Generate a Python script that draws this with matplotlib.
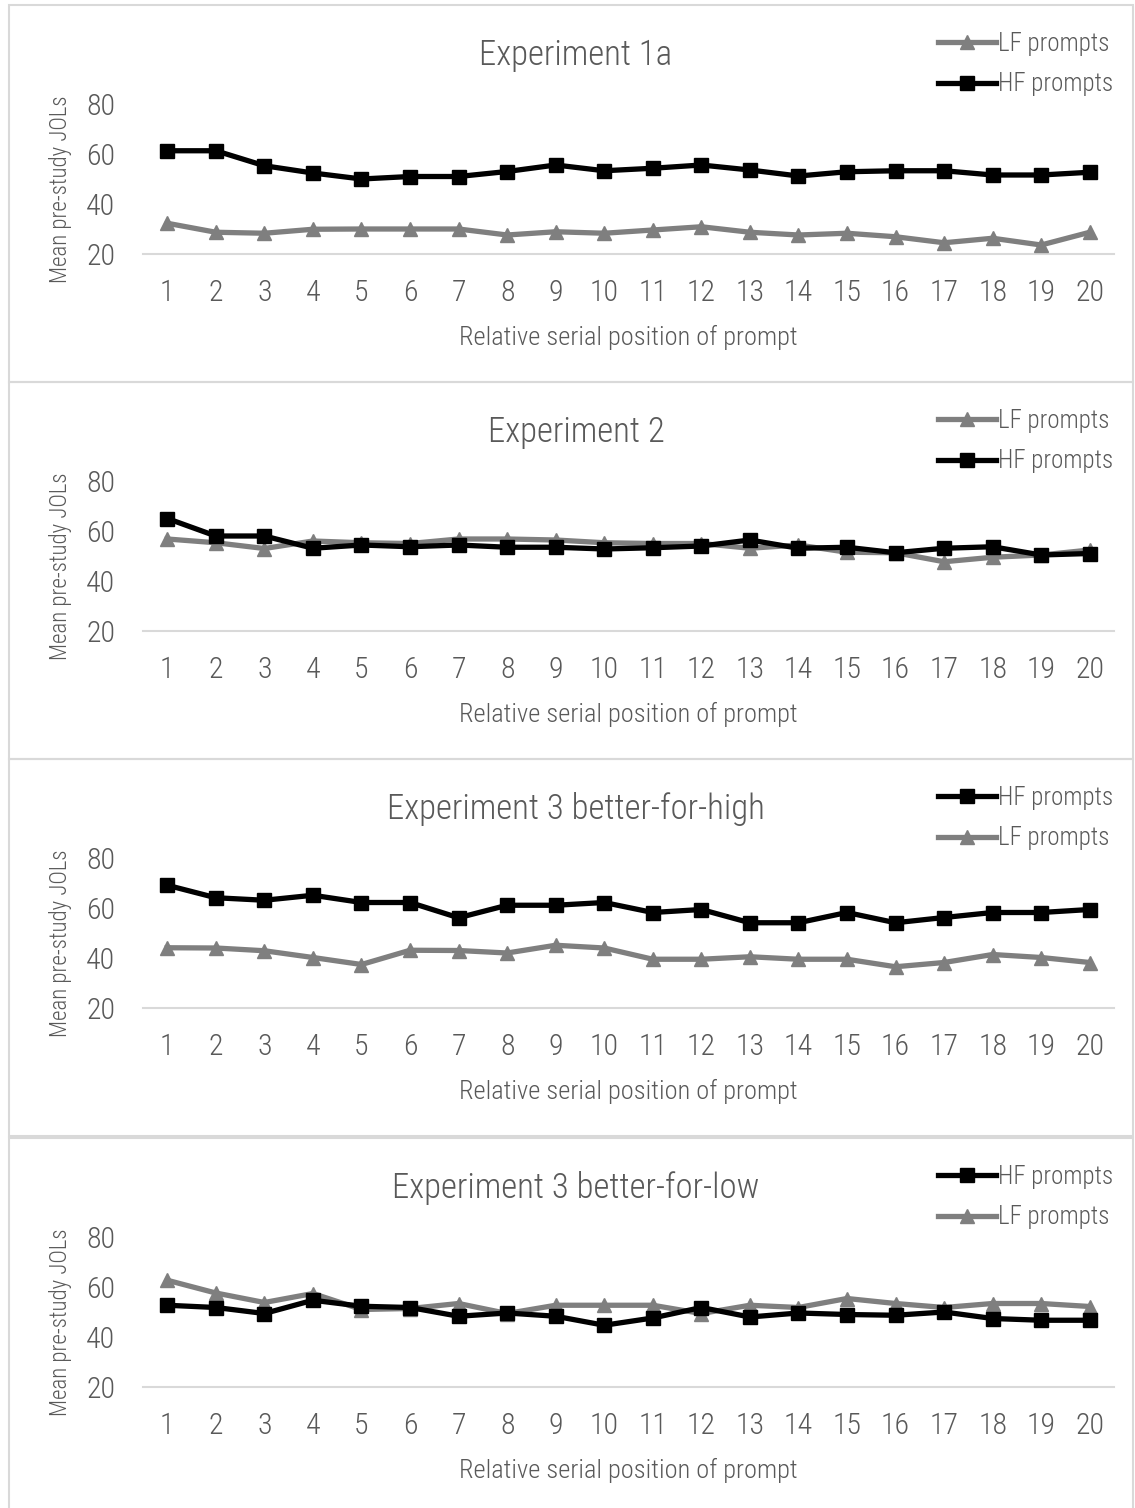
"""
Mean pre-study JOLs by relative serial position, four experiments
"""

import matplotlib
matplotlib.use('Agg')
import matplotlib.pyplot as plt
from matplotlib.patches import Rectangle

# ============================================================================
# data
# ============================================================================
positions = list(range(1, 21))

exp1a_hf = [61.3, 61.3, 55.3, 52.4, 50.0, 51.0, 51.0, 53.0, 55.6, 53.3,
            54.3, 55.6, 53.6, 51.2, 52.9, 53.3, 53.3, 51.6, 51.6, 52.7]
exp1a_lf = [32.3, 28.7, 28.3, 29.9, 30.0, 30.0, 30.0, 27.6, 28.9, 28.3,
            29.6, 30.9, 28.7, 27.6, 28.3, 26.9, 24.5, 26.3, 23.6, 28.7]

exp2_hf = [65.0, 58.0, 58.0, 53.1, 54.4, 53.7, 54.4, 53.5, 53.5, 52.8,
           53.3, 54.0, 56.4, 53.1, 53.5, 51.3, 53.1, 53.7, 50.4, 51.0]
exp2_lf = [56.8, 55.3, 53.0, 56.0, 55.3, 55.0, 56.8, 56.8, 56.4, 55.3,
           55.0, 55.0, 53.1, 54.4, 51.5, 51.3, 47.7, 49.5, 50.4, 52.4]

exp3h_hf = [69.1, 64.1, 63.1, 65.1, 62.2, 62.2, 56.1, 61.1, 61.1, 62.2,
            58.2, 59.4, 54.1, 54.1, 58.2, 54.1, 56.2, 58.2, 58.2, 59.4]
exp3h_lf = [44.1, 44.0, 42.9, 40.2, 37.4, 43.1, 43.0, 42.0, 45.1, 44.0,
            39.5, 39.5, 40.5, 39.5, 39.5, 36.5, 38.2, 41.4, 40.2, 38.2]

exp3l_hf = [52.7, 51.8, 49.4, 54.7, 52.3, 51.8, 48.3, 49.6, 48.3, 44.7,
            47.6, 51.8, 48.0, 49.6, 49.0, 48.7, 50.0, 47.4, 46.7, 46.7]
exp3l_lf = [62.7, 57.6, 53.8, 57.4, 51.0, 51.4, 53.4, 49.4, 52.7, 52.7,
            52.7, 49.4, 52.7, 51.8, 55.4, 53.4, 51.8, 53.4, 53.4, 52.2]

y_ticks = [20, 40, 60, 80]

panels = [
    ("Experiment 1a", exp1a_hf, exp1a_lf, ['LF', 'HF']),
    ("Experiment 2", exp2_hf, exp2_lf, ['LF', 'HF']),
    ("Experiment 3 better-for-high", exp3h_hf, exp3h_lf, ['HF', 'LF']),
    ("Experiment 3 better-for-low", exp3l_hf, exp3l_lf, ['HF', 'LF']),
]

# ============================================================================
# style
# ============================================================================
TEXT = '#595959'
GRID = '#d9d9d9'
HF_COLOR = '#000000'
LF_COLOR = '#7f7f7f'
FONT = ['Roboto Condensed', 'Barlow Semi Condensed', 'Roboto', 'DejaVu Sans']

plt.rcParams['font.family'] = FONT
plt.rcParams['font.weight'] = 'light'
plt.rcParams['axes.labelweight'] = 'light'

W, H = 1135, 1508
fig = plt.figure(figsize=(W / 100, H / 100), dpi=100)

panel_tops = [5, 382, 759, 1138]
ax_left, ax_right = 143, 1114


def fx(px):
    return px / W


def fy(py):
    return 1 - py / H


for (title, hf, lf, order), top in zip(panels, panel_tops):
    # panel frame
    fig.patches.append(Rectangle((fx(9), fy(top + 377)), fx(1133 - 9), 377 / H,
                                 transform=fig.transFigure, fill=False,
                                 edgecolor=GRID, linewidth=1.5))

    bottom = top + 249
    ax = fig.add_axes([fx(ax_left), fy(bottom), fx(ax_right - ax_left), 150 / H])

    lines = {}
    lines['LF'], = ax.plot(positions, lf, color=LF_COLOR, linewidth=3.8,
                           marker='^', markersize=10.5, clip_on=False,
                           label='LF prompts', zorder=3)
    lines['HF'], = ax.plot(positions, hf, color=HF_COLOR, linewidth=3.8,
                           marker='s', markersize=10.5, clip_on=False,
                           label='HF prompts', zorder=4)

    ax.set_xlim(0.5, 20.5)
    ax.set_ylim(20, 80)
    ax.set_xticks(positions)
    ax.set_yticks(y_ticks)
    ax.tick_params(length=0, labelsize=21.5, labelcolor=TEXT)
    ax.tick_params(axis='x', pad=18)
    ax.tick_params(axis='y', pad=20)
    for side in ['top', 'right', 'left']:
        ax.spines[side].set_visible(False)
    ax.spines['bottom'].set_color(GRID)
    ax.spines['bottom'].set_linewidth(1.5)
    ax.patch.set_alpha(0)

    ax.set_xlabel('Relative serial position of prompt', fontsize=19,
                  color=TEXT, labelpad=13)
    fig.text(fx(60), fy(top + 184), 'Mean pre-study JOLs', rotation=90,
             ha='center', va='center', fontsize=16.5, color=TEXT)
    fig.text(fx(576), fy(top + 50), title, ha='center', va='center',
             fontsize=25, color=TEXT)

    handles = [lines[k] for k in order]
    ax.legend(handles=handles, loc='upper left',
              bbox_to_anchor=(fx(938), fy(top + 27)),
              bbox_transform=fig.transFigure, frameon=False, fontsize=18,
              labelcolor=TEXT, handlelength=2.3, handletextpad=0.1,
              labelspacing=0.65, borderaxespad=0, borderpad=0)

plt.savefig('out.png', dpi=100)
plt.close()
